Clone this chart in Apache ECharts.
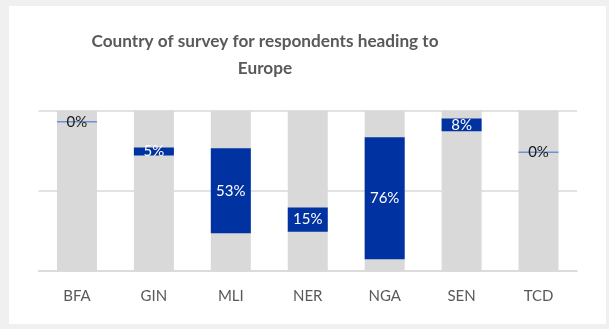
<!DOCTYPE html>
<html>
<head>
<meta charset="utf-8">
<script src="https://cdn.jsdelivr.net/npm/echarts@6/dist/echarts.min.js"></script>
<style>
  html, body { margin: 0; padding: 0; background: #f0f0f0; }
  #wrap { position: relative; width: 609px; height: 329px; background: #f0f0f0; }
  #chart { position: absolute; left: 9px; top: 6px; width: 597px; height: 318px; background: #ffffff; }
</style>
</head>
<body>
<div id="wrap"><div id="chart"></div></div>
<script>
// Country codes along the x axis
const countries = ['BFA', 'GIN', 'MLI', 'NER', 'NGA', 'SEN', 'TCD'];
// Share of respondents heading to Europe (%)
const shares = [0, 5, 53, 15, 76, 8, 0];
// Offset where each floating bar begins (%)
const offsets = [93, 72, 23.5, 24.5, 7.3, 87, 74];
// Full-height background columns (%)
const fullScale = [100, 100, 100, 100, 100, 100, 100];

const FONT = 'Lato';
const chart = echarts.init(document.getElementById('chart'), null, { renderer: 'canvas' });

chart.setOption({
  animation: false,
  textStyle: { fontFamily: FONT },
  title: {
    text: 'Country of survey for respondents heading to\nEurope',
    left: 251,
    top: 17,
    textAlign: 'center',
    textStyle: { fontFamily: FONT, fontSize: 17.2, fontWeight: 'bold', color: '#595959', lineHeight: 27 }
  },
  grid: { left: 29.5, right: 29, top: 104.5, bottom: 53 },
  xAxis: {
    type: 'category',
    data: countries,
    axisTick: { show: false },
    axisLine: { lineStyle: { color: '#d9d9d9', width: 1.5 } },
    axisLabel: { color: '#595959', fontSize: 15, margin: 18, fontFamily: FONT }
  },
  yAxis: {
    type: 'value',
    min: 0,
    max: 100,
    interval: 50,
    axisLabel: { show: false },
    axisLine: { show: false },
    axisTick: { show: false },
    splitLine: { lineStyle: { color: '#d9d9d9', width: 1.5 } }
  },
  series: [
    {
      type: 'bar',
      data: fullScale,
      barWidth: 40,
      barGap: '-100%',
      itemStyle: { color: '#d9d9d9' },
      silent: true
    },
    {
      type: 'bar',
      stack: 'range',
      data: offsets,
      barWidth: 40,
      itemStyle: { color: 'rgba(0,0,0,0)' },
      silent: true
    },
    {
      type: 'bar',
      stack: 'range',
      barWidth: 40,
      data: shares.map(v => v === 0
        ? { value: v,
            itemStyle: { color: '#0033a1', borderColor: '#6f90d4', borderWidth: 1.5 },
            label: { color: '#1a1a1a' } }
        : { value: v }),
      itemStyle: { color: '#0033a1' },
      label: {
        show: true,
        position: 'inside',
        formatter: '{c}%',
        color: '#ffffff',
        fontSize: 15,
        fontFamily: FONT
      }
    }
  ]
});
</script>
</body>
</html>
